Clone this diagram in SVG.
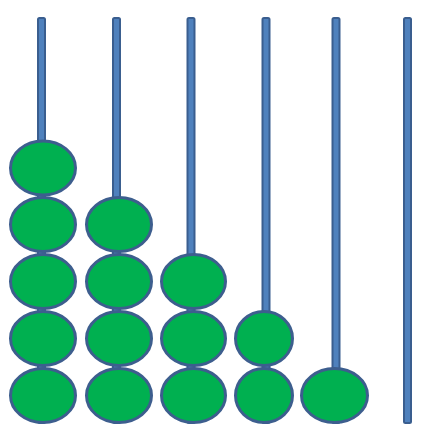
<svg xmlns="http://www.w3.org/2000/svg" width="437" height="439" viewBox="0 0 437 439">
<style>
.rod{fill:#4F81BD;stroke:#3A5E8F;stroke-width:2}
.bead{fill:#00B050;stroke:#3D5E8E;stroke-width:3}
</style>
<rect width="437" height="439" fill="#FFFFFF"/>
<g id="rods">
<rect class="rod" x="38" y="18" width="7" height="405" rx="1.5"/>
<rect class="rod" x="113" y="18" width="7" height="405" rx="1.5"/>
<rect class="rod" x="187.5" y="18" width="7" height="405" rx="1.5"/>
<rect class="rod" x="262.5" y="18" width="7" height="405" rx="1.5"/>
<rect class="rod" x="332.5" y="18" width="7" height="405" rx="1.5"/>
<rect class="rod" x="404" y="18" width="7" height="405" rx="1.5"/>
</g>
<g id="column1">
<ellipse class="bead" cx="43" cy="168" rx="32.5" ry="27"/>
<ellipse class="bead" cx="43" cy="224.5" rx="32.5" ry="27"/>
<ellipse class="bead" cx="43" cy="281.5" rx="32.5" ry="27"/>
<ellipse class="bead" cx="43" cy="338.5" rx="32.5" ry="27"/>
<ellipse class="bead" cx="43" cy="395.5" rx="32.5" ry="27"/>
</g>
<g id="column2">
<ellipse class="bead" cx="119" cy="224.5" rx="32.5" ry="27"/>
<ellipse class="bead" cx="119" cy="281.5" rx="32.5" ry="27"/>
<ellipse class="bead" cx="119" cy="338.5" rx="32.5" ry="27"/>
<ellipse class="bead" cx="119" cy="395.5" rx="32.5" ry="27"/>
</g>
<g id="column3">
<ellipse class="bead" cx="193.5" cy="281.5" rx="32" ry="27"/>
<ellipse class="bead" cx="193.5" cy="338.5" rx="32" ry="27"/>
<ellipse class="bead" cx="193.5" cy="395.5" rx="32" ry="27"/>
</g>
<g id="column4">
<ellipse class="bead" cx="264" cy="338.5" rx="28.5" ry="27"/>
<ellipse class="bead" cx="264" cy="395.5" rx="28.5" ry="27"/>
</g>
<g id="column5">
<ellipse class="bead" cx="334.5" cy="395.5" rx="33" ry="27"/>
</g>
</svg>
